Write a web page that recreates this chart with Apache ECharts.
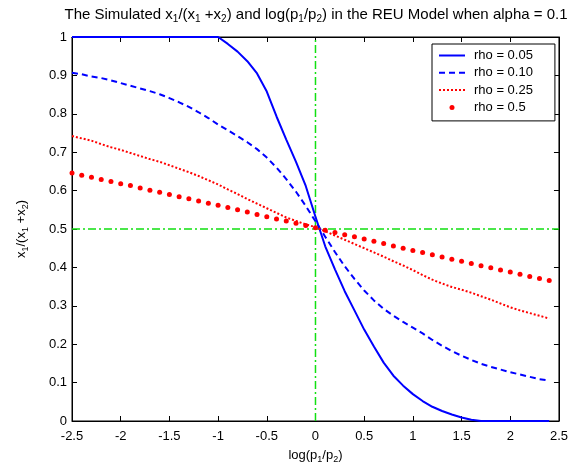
<!DOCTYPE html>
<html><head><meta charset="utf-8">
<script src="https://cdn.jsdelivr.net/npm/echarts@6/dist/echarts.min.js"></script>
<style>html,body{margin:0;padding:0;background:#fff}#c{width:571px;height:469px}</style>
</head><body><div id="c"></div>
<script>
const xValues = [-2.5,-2.4,-2.3,-2.2,-2.1,-2.0,-1.9,-1.8,-1.7,-1.6,-1.5,-1.4,-1.3,-1.2,-1.1,-1.0,-0.9,-0.8,-0.7,-0.6,-0.5,-0.4,-0.3,-0.2,-0.1,0.0,0.1,0.2,0.3,0.4,0.5,0.6,0.7,0.8,0.9,1.0,1.1,1.2,1.3,1.4,1.5,1.6,1.7,1.8,1.9,2.0,2.1,2.2,2.3,2.4];
const rho005 = [1,1,1,1,1,1,1,1,1,1,1,1,1,1,1,1,0.982,0.962,0.937,0.905,0.858,0.793,0.733,0.675,0.612,0.532,0.455,0.395,0.338,0.288,0.238,0.194,0.152,0.118,0.092,0.070,0.052,0.037,0.026,0.017,0.009,0.003,0,0,0,0,0,0,0,0];
const rho010 = [0.907,0.903,0.897,0.893,0.887,0.880,0.873,0.866,0.859,0.851,0.841,0.830,0.818,0.804,0.789,0.772,0.757,0.742,0.726,0.708,0.686,0.660,0.630,0.597,0.560,0.520,0.480,0.440,0.403,0.370,0.340,0.314,0.292,0.274,0.258,0.243,0.228,0.211,0.196,0.182,0.170,0.159,0.149,0.141,0.134,0.127,0.121,0.115,0.109,0.105];
const rho025 = [0.742,0.736,0.730,0.721,0.713,0.706,0.698,0.690,0.682,0.675,0.666,0.657,0.648,0.638,0.627,0.616,0.603,0.591,0.578,0.566,0.554,0.542,0.530,0.521,0.512,0.505,0.494,0.483,0.472,0.461,0.450,0.439,0.428,0.416,0.405,0.393,0.380,0.368,0.358,0.349,0.342,0.334,0.325,0.316,0.306,0.296,0.288,0.281,0.274,0.267];
const rho05 = [0.646,0.640,0.635,0.629,0.624,0.618,0.613,0.607,0.601,0.596,0.590,0.584,0.579,0.573,0.567,0.562,0.556,0.550,0.544,0.538,0.532,0.526,0.521,0.515,0.509,0.503,0.497,0.491,0.485,0.480,0.474,0.468,0.462,0.456,0.450,0.444,0.439,0.433,0.427,0.421,0.416,0.410,0.404,0.399,0.393,0.388,0.382,0.376,0.371,0.366];
const seriesNames = ['rho = 0.05','rho = 0.10','rho = 0.25','rho = 0.5'];
const xTicks = [-2.5,-2,-1.5,-1,-0.5,0,0.5,1,1.5,2,2.5];
const yTicks = [0,0.1,0.2,0.3,0.4,0.5,0.6,0.7,0.8,0.9,1];
const refX = 0, refY = 0.5;
const xRange = [-2.5, 2.5], yRange = [0, 1];

const pairs = a => xValues.map((x,i)=>[x,a[i]]);
const FONT = 'Liberation Sans';
const mkRich = (fs, sfs) => ({
  n:{fontFamily:FONT,fontSize:fs,fontWeight:'normal',lineHeight:18,verticalAlign:'middle',color:'#000'},
  s:{fontFamily:FONT,fontSize:sfs,fontWeight:'normal',lineHeight:9,verticalAlign:'bottom',color:'#000'}
});
const fmt = v => { const r = Math.round(v*10)/10; return String(r); };
const green = '#11e011';
const greenLine = {color:green,width:1.5,type:[8,3,2,3],opacity:1};

const chart = echarts.init(document.getElementById('c'));
chart.setOption({
  animation:false,
  backgroundColor:'#fff',
  title:{
    text:'{n|The Simulated x}{s|1}{n|/(x}{s|1}{n| +x}{s|2}{n|) and log(p}{s|1}{n|/p}{s|2}{n|) in the REU Model when alpha = 0.1}',
    left:316, top:6, textAlign:'center', padding:0,
    textStyle:{fontWeight:'normal',rich:mkRich(15,10)}
  },
  grid:{left:72,right:11,top:37,bottom:48,show:true,borderColor:'#000',borderWidth:1,backgroundColor:'#fff'},
  legend:{
    data:[
      {name:seriesNames[0],itemStyle:{opacity:0}},
      {name:seriesNames[1],itemStyle:{opacity:0}},
      {name:seriesNames[2],itemStyle:{opacity:0}},
      {name:seriesNames[3]}
    ],
    orient:'vertical', left:432, top:44,
    padding:[4,22,6,6], itemWidth:26, itemHeight:5, itemGap:2.3,
    borderColor:'#000', borderWidth:1, backgroundColor:'#fff',
    textStyle:{fontFamily:FONT,fontSize:13,color:'#000',lineHeight:15,padding:[0,0,0,4]}
  },
  xAxis:[{
    type:'value', min:-2.5, max:2.5, interval:0.5, position:'bottom',
    name:'{n|log(p}{s|1}{n|/p}{s|2}{n|)}', nameLocation:'middle', nameGap:25,
    nameTextStyle:{rich:mkRich(13,9)},
    axisLine:{show:true,onZero:false,lineStyle:{color:'#000',width:1}},
    axisTick:{show:true,inside:true,length:5,lineStyle:{color:'#000'}},
    axisLabel:{fontFamily:FONT,fontSize:13,color:'#000',margin:9,formatter:fmt,showMinLabel:true,showMaxLabel:true},
    splitLine:{show:false}
  },{
    type:'value', min:-2.5, max:2.5, interval:0.5, position:'top',
    axisLine:{show:true,onZero:false,lineStyle:{color:'#000'}},
    axisTick:{show:true,inside:true,length:5,lineStyle:{color:'#000'}},
    axisLabel:{show:false}, splitLine:{show:false}
  }],
  yAxis:[{
    type:'value', min:0, max:1, interval:0.1, position:'left',
    name:'{n|x}{s|1}{n|/(x}{s|1}{n| +x}{s|2}{n|)}', nameLocation:'middle', nameGap:42, nameRotate:90,
    nameTextStyle:{rich:mkRich(13,9)},
    axisLine:{show:true,onZero:false,lineStyle:{color:'#000'}},
    axisTick:{show:true,inside:true,length:5,lineStyle:{color:'#000'}},
    axisLabel:{fontFamily:FONT,fontSize:13,color:'#000',margin:5,formatter:fmt,showMinLabel:true,showMaxLabel:true},
    splitLine:{show:false}
  },{
    type:'value', min:0, max:1, interval:0.1, position:'right',
    axisLine:{show:true,onZero:false,lineStyle:{color:'#000'}},
    axisTick:{show:true,inside:true,length:5,lineStyle:{color:'#000'}},
    axisLabel:{show:false}, splitLine:{show:false}
  }],
  series:[
    {name:'refV', type:'line', data:[[refX,yRange[0]],[refX,yRange[1]]], symbol:'none', silent:true, z:1, lineStyle:greenLine, itemStyle:{color:green}},
    {name:'refH', type:'line', data:[[xRange[0],refY],[xRange[1],refY]], symbol:'none', silent:true, z:1, lineStyle:greenLine, itemStyle:{color:green}},
    {name:seriesNames[0], type:'line', data:pairs(rho005), symbol:'none', z:2, lineStyle:{color:'#0000ff',width:2,type:'solid'}, itemStyle:{color:'#0000ff'}},
    {name:seriesNames[1], type:'line', data:pairs(rho010), symbol:'none', z:2, lineStyle:{color:'#0000ff',width:2,type:[6,4]}, itemStyle:{color:'#0000ff'}},
    {name:seriesNames[2], type:'line', data:pairs(rho025), symbol:'none', z:2, lineStyle:{color:'#ff0000',width:2,type:[2,2]}, itemStyle:{color:'#ff0000'}},
    {name:seriesNames[3], type:'scatter', data:pairs(rho05), symbol:'circle', symbolSize:5, z:3, itemStyle:{color:'#ff0000',opacity:1}}
  ]
});
</script></body></html>
